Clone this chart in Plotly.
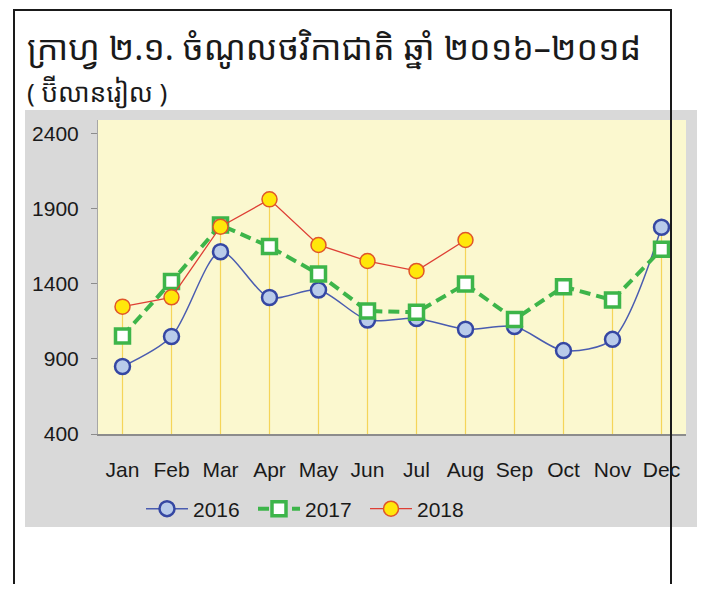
import plotly.graph_objects as go

months = ["Jan", "Feb", "Mar", "Apr", "May", "Jun", "Jul", "Aug", "Sep", "Oct", "Nov", "Dec"]
v2016 = [850, 1050, 1615, 1310, 1360, 1160, 1170, 1098, 1116, 956, 1031, 1778]
v2017 = [1053, 1416, 1793, 1649, 1467, 1220, 1211, 1400, 1164, 1382, 1293, 1631]
v2018 = [1249, 1311, 1782, 1964, 1660, 1553, 1487, 1693]
y_ticks = [400, 900, 1400, 1900, 2400]

title_text = "ក្រាហ្វ ២.១. ចំណូលថវិកាជាតិ ឆ្នាំ ២០១៦–២០១៨"
subtitle_text = "( ប៊ីលានរៀល )"

# page body has an 8px margin; work in page coordinates and convert
OFF = 8
W, H = 705 - 2 * OFF, 592 - 2 * OFF
L, R, T, B = 98 - OFF, 686 - OFF, 120 - OFF, 434 - OFF
y_min, y_max = 400, 2493

fig = go.Figure()

# drop lines from the highest point of each month down to the axis
dx, dy = [], []
for i, m in enumerate(months):
    vals = [v2016[i], v2017[i]] + ([v2018[i]] if i < len(v2018) else [])
    dx += [m, m, None]
    dy += [y_min, max(vals), None]
fig.add_trace(go.Scatter(x=dx, y=dy, mode="lines", line=dict(color="#f5d558", width=1.2),
                         showlegend=False, hoverinfo="skip"))

fig.add_trace(go.Scatter(x=months, y=v2016, name="2016", mode="lines+markers",
                         line=dict(color="#4a5cb0", width=1.5, shape="spline", smoothing=0.8),
                         marker=dict(symbol="circle", size=15, color="#b9cbea",
                                     line=dict(color="#3547a3", width=2.5))))
fig.add_trace(go.Scatter(x=months, y=v2017, name="2017", mode="lines+markers",
                         line=dict(color="#3db54a", width=4, dash="11px,6px"),
                         marker=dict(symbol="square", size=14, color="#ffffff",
                                     line=dict(color="#3db54a", width=3.5))))
fig.add_trace(go.Scatter(x=months[:len(v2018)], y=v2018, name="2018", mode="lines+markers",
                         line=dict(color="#de3f35", width=1.3),
                         marker=dict(symbol="circle", size=15, color="#ffe70a",
                                     line=dict(color="#e0562a", width=1.5))))


def px_x(p):
    """page x pixel -> paper coordinate"""
    return (p - OFF - L) / (R - L)


def px_y(p):
    """page y pixel -> paper coordinate"""
    return (B - (p - OFF)) / (B - T)


shapes = [
    # grey chart area
    dict(type="rect", xref="paper", yref="paper", x0=px_x(25), x1=px_x(697),
         y0=px_y(527), y1=px_y(110), fillcolor="#d9d9d9", line=dict(width=0), layer="below"),
    # yellow plot area
    dict(type="rect", xref="paper", yref="paper", x0=0, x1=1, y0=0, y1=1,
         fillcolor="#fbf8cf", line=dict(width=0), layer="below"),
    # black frame lines
    dict(type="line", xref="paper", yref="paper", x0=px_x(14), x1=px_x(14),
         y0=px_y(10), y1=px_y(600), line=dict(color="#1a1a1a", width=2), layer="above"),
    dict(type="line", xref="paper", yref="paper", x0=px_x(13), x1=px_x(672),
         y0=px_y(10), y1=px_y(10), line=dict(color="#1a1a1a", width=2), layer="above"),
    dict(type="line", xref="paper", yref="paper", x0=px_x(671), x1=px_x(671),
         y0=px_y(10), y1=px_y(600), line=dict(color="#1a1a1a", width=2), layer="above"),
]

khmer_font = "Noto Sans Khmer, Khmer OS, Khmer OS System, Noto Sans, sans-serif"
annotations = [
    dict(text=title_text, xref="paper", yref="paper", x=px_x(25), y=px_y(47),
         xanchor="left", yanchor="middle", showarrow=False,
         font=dict(family=khmer_font, size=34, color="#1a1a1a")),
    dict(text=subtitle_text, xref="paper", yref="paper", x=px_x(25), y=px_y(92),
         xanchor="left", yanchor="middle", showarrow=False,
         font=dict(family=khmer_font, size=26, color="#1a1a1a")),
]

tick_font = dict(family="Liberation Sans Narrow, Arial Narrow, Liberation Sans, sans-serif",
                 size=21, color="#1a1a1a")

fig.update_layout(
    width=W, height=H,
    margin=dict(l=L, r=W - R, t=T, b=H - B, pad=0),
    paper_bgcolor="#ffffff",
    plot_bgcolor="#fbf8cf",
    shapes=shapes,
    annotations=annotations,
    showlegend=True,
    legend=dict(orientation="h", x=px_x(141), y=px_y(509), xanchor="left", yanchor="middle",
                font=tick_font, bgcolor="rgba(0,0,0,0)", itemwidth=42,
                entrywidth=55, entrywidthmode="pixels",
                traceorder="normal", tracegroupgap=0),
    xaxis=dict(type="category", range=[-0.5, 11.5], showgrid=False, zeroline=False,
               showline=True, linecolor="#8c8c8c", linewidth=2, ticks="",
               tickfont=tick_font, ticklabelstandoff=16, fixedrange=True),
    yaxis=dict(range=[y_min, y_max], tickvals=y_ticks, showgrid=False, zeroline=False,
               showline=True, linecolor="#a6a6a6", linewidth=1, ticks="outside",
               ticklen=6, tickcolor="#8c8c8c", tickfont=tick_font, ticklabelstandoff=8,
               fixedrange=True),
)

fig.write_html("out.html")
